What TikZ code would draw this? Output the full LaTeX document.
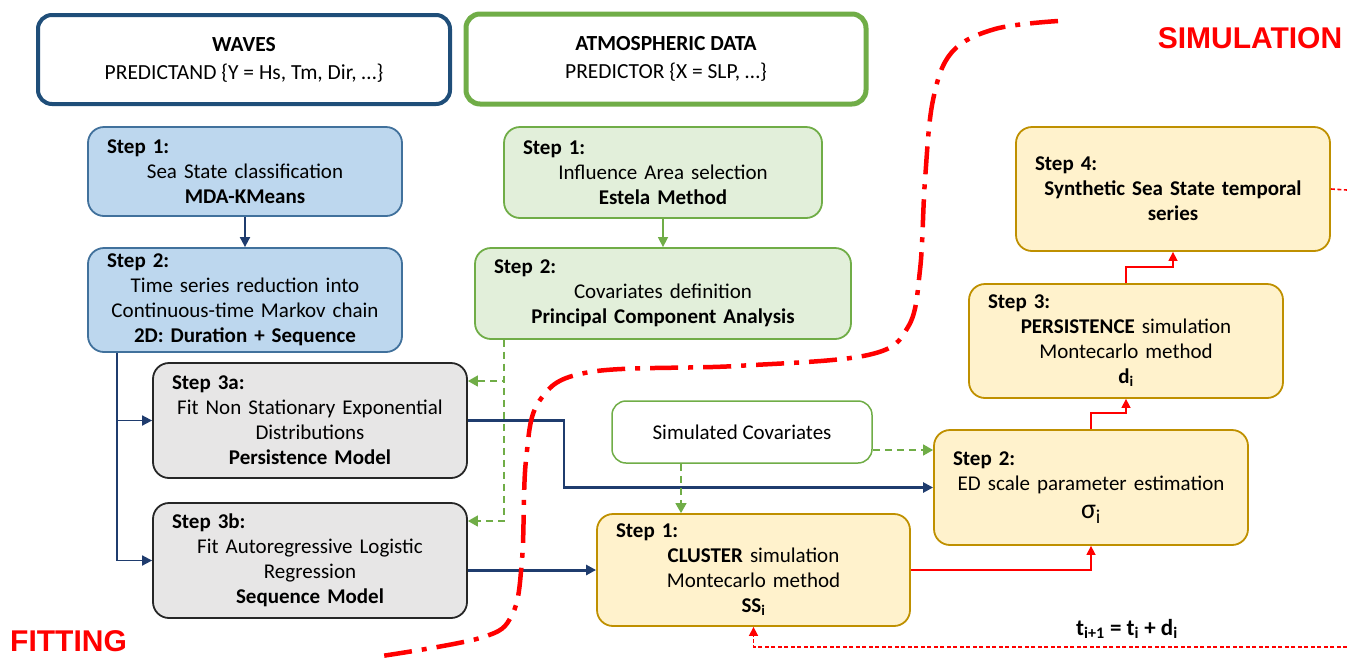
\documentclass[tikz,border=0pt]{standalone}
\usepackage{fontspec}
\setmainfont{Carlito}
\newfontfamily\regionfont{Liberation Sans}
\usetikzlibrary{arrows.meta,positioning}

\definecolor{wavenavy}{RGB}{31,78,121}
\definecolor{arrownavy}{RGB}{31,60,110}
\definecolor{blueline}{RGB}{65,113,156}
\definecolor{bluefill}{RGB}{189,215,238}
\definecolor{atmgreen}{RGB}{112,173,71}
\definecolor{greenfill}{RGB}{226,239,218}
\definecolor{greyfill}{RGB}{231,230,230}
\definecolor{greyline}{RGB}{38,38,38}
\definecolor{yellowfill}{RGB}{255,242,204}
\definecolor{yellowline}{RGB}{191,144,0}
\definecolor{regionred}{RGB}{255,0,0}

\newcommand{\steplines}[2]{\makebox[\linewidth][l]{\textbf{#1}}\\#2}

\tikzset{
  headbox/.style={rectangle, rounded corners=14pt, align=center, fill=white,
    font=\fontsize{21.5}{28}\selectfont},
  stepbox/.style={rectangle, rounded corners=16pt, line width=1.8pt, align=center,
    inner xsep=19pt, inner ysep=3pt, font=\fontsize{21}{25}\selectfont},
  wavestep/.style={stepbox, draw=blueline, fill=bluefill},
  atmstep/.style={stepbox, draw=atmgreen, fill=greenfill},
  fitstep/.style={stepbox, draw=greyline, fill=greyfill},
  simstep/.style={stepbox, draw=yellowline, fill=yellowfill},
  regionlabel/.style={text=regionred, font=\regionfont\bfseries\fontsize{30}{30}\selectfont},
  navyarrow/.style={draw=arrownavy, line width=1.8pt, -{Triangle[length=10pt,width=10pt]}},
  greendash/.style={draw=atmgreen, line width=1.5pt, dash pattern=on 7pt off 5pt,
    -{Triangle[length=10pt,width=11pt]}},
  redline/.style={draw=regionred, line width=1.5pt, -{Triangle[length=9pt,width=9pt]}},
  reddash/.style={draw=regionred, line width=1.6pt, dash pattern=on 4pt off 2.5pt},
  regionline/.style={draw=regionred, line width=4.5pt,
    dash pattern=on 28pt off 10pt on 5pt off 10pt}
}

\begin{document}
\begin{tikzpicture}[x=1pt, y=-1pt]
\path[use as bounding box] (0,0) rectangle (1347,657);

% Data sources
\node[headbox, draw=wavenavy, line width=4pt, minimum width=412pt, minimum height=89pt] (waves) at (244,59.5)
  {\textbf{WAVES}\\PREDICTAND \{Y = Hs, Tm, Dir, …\}};
\node[headbox, draw=atmgreen, line width=5pt, minimum width=400pt, minimum height=90pt] (atmos) at (666,59)
  {\textbf{ATMOSPHERIC DATA}\\PREDICTOR \{X = SLP, …\}};

% Fitting steps
\node[wavestep, text width=276pt, minimum height=89pt] (wstep1) at (245,171.5)
  {\steplines{Step 1:}{Sea State classification\\\textbf{MDA-KMeans}}};
\node[wavestep, text width=276pt, minimum height=104pt] (wstep2) at (245,300)
  {\steplines{Step 2:}{Time series reduction into\\Continuous-time Markov chain\\\textbf{2D: Duration + Sequence}}};
\node[atmstep, text width=280pt, minimum height=91pt] (astep1) at (663,172.5)
  {\steplines{Step 1:}{Influence Area selection\\\textbf{Estela Method}}};
\node[atmstep, text width=338pt, minimum height=91pt] (astep2) at (663,293.5)
  {\steplines{Step 2:}{Covariates definition\\\textbf{Principal Component Analysis}}};
\node[fitstep, text width=276pt, minimum height=115pt] (fit3a) at (310,420.5)
  {\steplines{Step 3a:}{Fit Non Stationary Exponential\\Distributions\\\textbf{Persistence Model}}};
\node[fitstep, text width=276pt, minimum height=115pt] (fit3b) at (310,560.5)
  {\steplines{Step 3b:}{Fit Autoregressive Logistic\\Regression\\\textbf{Sequence Model}}};

% Simulation steps
\node[headbox, draw=atmgreen, line width=1.5pt, minimum width=260pt, minimum height=62pt,
  font=\fontsize{21}{25}\selectfont] (simcov) at (742,432) {Simulated Covariates};
\node[simstep, text width=275pt, minimum height=112pt] (sim1) at (753.5,570)
  {\steplines{Step 1:}{\textbf{CLUSTER} simulation\\Montecarlo method\\\textbf{SS\textsubscript{i}}}};
\node[simstep, text width=276pt, minimum height=115pt] (sim2) at (1091,487.5)
  {\steplines{Step 2:}{ED scale parameter estimation\\[3pt]{\fontsize{28}{30}\selectfont σ\textsubscript{i}}}};
\node[simstep, text width=276pt, minimum height=114pt] (sim3) at (1126,341)
  {\steplines{Step 3:}{\textbf{PERSISTENCE} simulation\\Montecarlo method\\\textbf{d\textsubscript{i}}}};
\node[simstep, text width=276pt, minimum height=124pt] (sim4) at (1173,189)
  {\steplines{Step 4:}{\textbf{Synthetic Sea State temporal}\\\textbf{series}}};

% Labels
\node[regionlabel] (simulation) at (1250,38) {SIMULATION};
\node[regionlabel, anchor=base west, inner sep=0pt] (fitting) at (10,651) {FITTING};
\node[font=\bfseries\fontsize{23}{25}\selectfont] (tnext) at (1127,629)
  {t\textsubscript{i+1} = t\textsubscript{i} + d\textsubscript{i}};
\coordinate (edgeR) at (1347,190);
\coordinate (loopR) at (1347,647);

% Fitting connectors
\draw[navyarrow] (wstep1) -- (wstep2);
\draw[navyarrow] ([xshift=-128pt]wstep2.south) |- (fit3a.west);
\draw[navyarrow] ([xshift=-128pt]wstep2.south) |- (fit3b.west);
\draw[-{Triangle[length=10pt,width=10pt]}, draw=atmgreen, fill=atmgreen, line width=1.5pt] (astep1) -- (astep2);
\draw[greendash] ([xshift=-159pt]astep2.south) |- ([yshift=39.5pt]fit3a.east);
\draw[greendash] ([xshift=-159pt]astep2.south) |- ([yshift=39.5pt]fit3b.east);
\draw[navyarrow, line width=2.4pt] (fit3a.east) -- ++(96pt,0) |- (sim2.west);
\draw[navyarrow, line width=3pt] (sim1.west -| fit3b.east) -- (sim1.west);

% Simulation connectors
\draw[greendash] ([xshift=-61pt]simcov.south) -- ([xshift=-61pt]simcov.south |- sim1.north);
\draw[greendash] ([yshift=-18pt]simcov.east) -- ([yshift=-18pt]simcov.east -| sim2.west);
\draw[redline] (sim1.east) -| (sim2.south);
\draw[redline] (sim2.north) -- ++(0,16pt) -| (sim3.south);
\draw[redline] (sim3.north) -- ++(0,16pt) -| (sim4.south);
\draw[reddash] (sim4.east) -- (edgeR);
\draw[reddash, -{Triangle[length=9pt,width=9pt]}] (loopR) -| (sim1.south);

% Fitting / simulation border
\draw[regionline] plot[smooth, tension=0.6] coordinates {(1058,21) (995,29) (952,52) (933,100) (925,180) (920,270) (908,327) (868,355) (736,366) (590,372) (540,400) (526,460) (522,560) (512,615) (480,638) (375,657)};
\end{tikzpicture}
\end{document}
